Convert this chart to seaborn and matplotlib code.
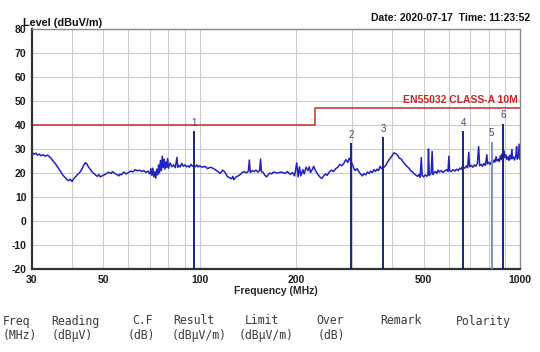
import matplotlib
matplotlib.use("Agg")
import matplotlib.pyplot as plt
import seaborn as sns
import pandas as pd
from matplotlib.ticker import FixedLocator, NullLocator

# ---------------- data ----------------
trace_freq = [
    30.0, 30.4, 30.8, 31.2, 31.6, 32.0, 32.5, 33.0, 33.5, 34.0, 34.5, 35.0, 35.5, 36.0, 36.5,
    37.0, 37.5, 38.0, 38.5, 39.0, 39.5, 40.0, 40.5,
    41.0, 41.5, 42.0, 42.5, 43.0, 43.5, 44.0, 44.5, 45.0, 45.5, 46.0, 46.5, 47.0, 47.5, 48.0,
    48.5, 49.0, 50.0,
    51, 52, 53, 53.5, 54, 55, 56, 56.5, 57, 58, 59, 60,
    61, 62, 63, 64, 65, 66, 67, 68, 69, 70,
    70.5, 71, 71.5, 72, 72.5, 73, 73.5, 74, 74.5, 75, 75.5, 76, 76.5, 77, 77.5, 78, 78.5, 79,
    79.5, 80,
    81, 82, 83, 84, 85, 85.5, 86, 87, 88, 89, 90, 91, 92, 93, 94, 95, 96, 97, 98, 99, 100,
    102, 104, 106, 108, 110, 112, 114, 116, 118, 120, 122, 124, 126, 127, 128, 130,
    132, 134, 136, 138, 140, 142, 143, 144, 146, 148, 150, 152, 154, 155, 156, 158, 160, 162,
    164, 166, 168, 170,
    175, 180, 185, 188, 192, 195, 198, 201, 203, 205, 207, 210, 212, 215, 218, 220, 222, 225,
    227, 230,
    234, 238, 241, 244, 247, 250, 254, 258, 262, 266, 270, 274, 278, 282, 286, 290, 293, 296,
    300,
    303, 306, 310, 314, 318, 322, 326, 330, 334, 338, 342, 346, 350, 354, 358, 362, 366, 370,
    378, 382,
    386, 392, 398, 404, 410, 416, 420, 426, 432, 438, 444, 450, 456, 462, 468, 474, 480, 484,
    488, 492, 495, 500,
    506, 512, 516, 518, 521, 528, 532, 535, 540, 545, 550, 555, 560, 568, 575, 582, 590, 596,
    600, 603, 610, 618, 626, 634, 642, 648, 655, 660,
    672, 680, 686, 692, 696, 704, 712, 720, 728, 736, 743, 748, 756, 764, 772, 780, 788, 792,
    800, 808, 816, 822, 830, 836, 842, 848, 856, 862, 868, 874, 880, 884, 892, 896, 904, 910,
    918, 924, 930, 936, 944, 948, 956, 962, 970, 976, 980, 988, 994, 1000,
]
trace_level = [
    28.5, 27.8, 28.3, 27.4, 27.9, 27.2, 27.6, 27.0, 27.5, 26.8, 25.9, 24.8, 23.9, 22.6, 21.5,
    20.2, 19.0, 18.2, 17.3, 16.8, 17.4, 16.5, 17.6,
    18.4, 19.2, 19.8, 20.6, 21.8, 23.2, 24.3, 23.8, 22.6, 21.7, 20.8, 20.1, 19.6, 19.0, 18.6,
    19.3, 18.4, 19.0,
    19.6, 20.3, 19.8, 20.6, 20.1, 19.5, 18.8, 19.6, 19.2, 20.4, 19.6, 20.2,
    20.8, 20.5, 21.4, 20.9, 21.2, 20.6, 21.0, 20.2, 20.8, 19.6,
    21.8, 19.0, 22.0, 18.4, 20.5, 17.8, 21.6, 19.2, 23.4, 20.0, 25.2, 21.0, 27.0, 22.2, 25.8,
    21.6, 24.6, 22.4, 26.0, 22.0,
    24.2, 22.6, 23.4, 22.2, 26.5, 22.4, 23.2, 22.5, 24.0, 22.8, 23.4, 22.6, 23.0, 22.4, 23.6,
    22.8, 23.2, 22.6, 23.4, 22.5, 23.0,
    22.4, 22.8, 21.8, 22.4, 22.0, 21.4, 20.6, 19.8, 21.2, 20.4, 18.6, 18.0, 17.6, 18.6, 17.2,
    18.4,
    18.8, 19.4, 20.2, 20.6, 20.0, 20.8, 25.4, 20.2, 21.0, 20.6, 21.2, 20.4, 21.0, 25.8, 20.6,
    20.2, 19.0, 18.4, 19.4, 20.0, 19.6, 20.4,
    20.0, 20.4, 19.8, 20.6, 19.4, 20.2, 18.8, 24.2, 18.4, 22.6, 18.8, 21.4, 19.6, 22.4, 21.0,
    22.6, 20.2, 21.6, 22.8, 21.0,
    19.4, 18.2, 17.8, 18.8, 19.6, 19.0, 20.4, 21.2, 20.6, 21.8, 22.4, 23.6, 23.0, 24.0, 25.6,
    24.4, 26.2, 25.0, 23.6,
    22.0, 21.0, 21.8, 20.6, 19.6, 18.8, 19.8, 19.2, 20.4, 19.8, 20.8, 20.2, 21.4, 20.6, 21.6,
    21.0, 22.8, 21.8, 22.6, 23.4,
    24.6, 25.8, 27.0, 28.4, 28.0, 27.2, 26.2, 25.8, 24.6, 23.6, 22.8, 22.0, 21.0, 20.4, 19.6,
    19.0, 18.6, 19.4, 18.2, 26.4, 19.0, 18.4,
    19.2, 18.6, 19.4, 30.0, 19.0, 20.0, 29.0, 19.4, 20.2, 20.6, 19.8, 21.2, 20.4, 21.0, 20.2,
    20.8, 21.4, 20.6, 27.0, 21.0, 20.6, 21.4, 20.8, 21.6, 21.0, 22.0, 21.6, 22.6,
    22.0, 23.0, 22.2, 28.6, 22.6, 23.2, 22.4, 23.4, 22.8, 24.0, 31.0, 23.0, 23.6, 22.8, 24.0,
    23.2, 27.6, 23.8,
    24.4, 23.6, 25.0, 24.2, 25.4, 24.6, 26.8, 25.0, 25.8, 24.8, 27.2, 25.6, 28.0, 26.2, 29.2,
    26.4, 27.6, 25.6,
    26.8, 25.2, 27.4, 25.8, 29.8, 26.0, 26.6, 25.4, 27.2, 31.0, 25.8, 26.4, 32.0, 25.6,
]

limit_freq = [30, 230, 230, 1000]
limit_level = [40, 40, 47, 47]
limit_label = "EN55032 CLASS-A 10M"

marker_ids = ["1", "2", "3", "4", "5", "6"]
marker_freq = [96.2, 297, 374, 666, 816, 888]
marker_level = [37.5, 32.5, 35.0, 37.5, 33.0, 40.5]

y_ticks = [80, 70, 60, 50, 40, 30, 20, 10, 0, -10, -20]
x_ticks = [30, 50, 100, 200, 500, 1000]
x_grid = [40, 50, 60, 70, 80, 90, 100, 200, 300, 400, 500, 600, 700, 800, 900]

header_row1 = ["Freq", "Reading", "C.F", "Result", "Limit", "Over", "Remark", "Polarity"]
header_row2 = ["(MHz)", "(dBμV)", "(dB)", "(dBμV/m)", "(dBμV/m)", "(dB)", "", ""]

# ---------------- figure ----------------
sns.set_style("white")
plt.rcParams["font.family"] = ["Liberation Sans", "DejaVu Sans"]

fig = plt.figure(figsize=(5.4, 3.52), dpi=100)
W, H = 540, 352
ax = fig.add_axes([32 / W, 1 - 269 / H, (520 - 32) / W, (269 - 29) / H])

df = pd.DataFrame({"freq": trace_freq, "level": trace_level})
sns.lineplot(data=df, x="freq", y="level", ax=ax, color="#2222c0", linewidth=1.1,
             sort=False, estimator=None)

sns.lineplot(x=limit_freq, y=limit_level, ax=ax, color="#c0302e", linewidth=1.1,
             sort=False, estimator=None)

for mid, f, lv in zip(marker_ids, marker_freq, marker_level):
    col = "#7f8fc0" if mid == "5" else "#1c2378"
    ax.vlines(f, -20, lv, color=col, linewidth=1.4, zorder=4)
    ax.annotate(mid, (f, lv), xytext=(0, 2.5), textcoords="offset points",
                ha="center", va="bottom", fontsize=7, color="#404a70")

ax.set_xscale("log")
ax.set_xlim(30, 1000)
ax.set_ylim(-20, 80)
ax.xaxis.set_major_locator(FixedLocator(x_ticks))
ax.xaxis.set_minor_locator(NullLocator())
ax.set_xticks(x_ticks)
ax.set_xticklabels([str(t) for t in x_ticks])
ax.set_yticks(y_ticks)
ax.set_yticklabels([str(t) for t in y_ticks])
ax.tick_params(axis="both", length=0, labelsize=7.5, colors="#1a1a1a", pad=4)
for lab in ax.get_xticklabels() + ax.get_yticklabels():
    lab.set_fontweight("bold")

for g in x_grid:
    ax.axvline(g, color="#cccccc", linewidth=0.8, zorder=0)
for t in y_ticks:
    ax.axhline(t, color="#cccccc", linewidth=0.8, zorder=0)

for side in ["top", "right"]:
    ax.spines[side].set_color("#8a8a8a")
    ax.spines[side].set_linewidth(1.0)
for side in ["left", "bottom"]:
    ax.spines[side].set_color("#333333")
    ax.spines[side].set_linewidth(1.6)

ax.set_xlabel("Frequency (MHz)", fontsize=7.5, fontweight="bold", labelpad=1)
ax.set_ylabel("")

ax.text(985, 48.5, limit_label, ha="right", va="bottom", fontsize=7.5,
        fontweight="bold", color="#c62828")

fig.text(23 / W, 1 - 23 / H, "Level (dBuV/m)", ha="left", va="center",
         fontsize=7.8, fontweight="bold", color="#111111")
fig.text(530 / W, 1 - 18 / H, "Date: 2020-07-17  Time: 11:23:52", ha="right",
         va="center", fontsize=7.5, fontweight="bold", color="#111111")

col_x1 = [3, 51, 132, 173, 245, 316, 380, 456]
col_x2 = [3, 52, 128, 172, 239, 318, 0, 0]
for x, t in zip(col_x1, header_row1):
    fig.text(x / W, 1 - 321 / H, t, ha="left", va="center", fontsize=8.3,
             family="DejaVu Sans Mono", color="#3a3a3a")
for x, t in zip(col_x2, header_row2):
    if t:
        fig.text(x / W, 1 - 335 / H, t, ha="left", va="center", fontsize=8.3,
                 family="DejaVu Sans Mono", color="#3a3a3a")

fig.savefig("out.png", dpi=100, facecolor="white")
